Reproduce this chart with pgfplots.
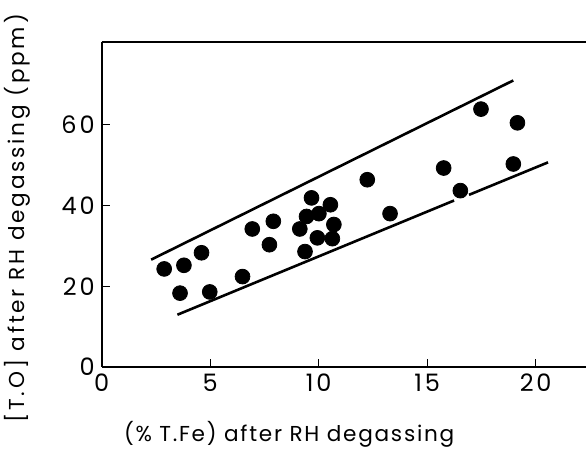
\documentclass[border=0pt]{standalone}
\usepackage{fontspec}
\setmainfont{Poppins}
\newfontfamily\lblfont[LetterSpace=8]{Poppins}
\newfontfamily\ylblfont[LetterSpace=13]{Poppins}
\newfontfamily\tickfont[LetterSpace=12]{Poppins}
\usepackage{pgfplots}
\pgfplotsset{compat=1.18}
\usetikzlibrary{calc}

\begin{document}
\begin{tikzpicture}
\begin{axis}[
  name=ax, scale only axis, width=242.15pt, height=162.65pt,
  xmin=0, xmax=22.32, ymin=0, ymax=80.6,
  axis lines=left, axis line style={-, line width=0.9pt},
  xtick={0,5,10,15,20}, ytick={0,20,40,60},
  tick align=inside, major tick length=4pt, tick style={line width=0.6pt, black},
  tick label style={font=\tickfont\fontsize{12}{12}\selectfont},
  /pgf/number format/assume math mode=true,
  clip=false,
]
% boundary lines
\addplot[black, line width=1.3pt] coordinates {(2.28,26.6) (18.97,71.0)};
\addplot[black, line width=1.3pt] coordinates {(3.49,12.95) (16.24,41.25)};
\addplot[black, line width=1.3pt] coordinates {(16.93,42.66) (20.57,50.7)};
% measurements
\addplot[only marks, mark=*, mark size=3.7pt, black] table[x=fe, y=o] {
fe o
2.88 24.3
3.61 18.3
3.79 25.2
4.60 28.3
4.98 18.6
6.49 22.4
6.94 34.2
7.73 30.3
7.91 36.1
9.13 34.2
9.37 28.6
9.44 37.3
9.67 41.9
10.01 38.0
9.94 32.0
10.54 40.2
10.70 35.3
10.63 31.8
12.24 46.4
13.29 38.0
15.76 49.3
16.53 43.7
17.48 63.9
18.97 50.3
19.16 60.5
};
\draw[line width=0.9pt] (rel axis cs:0,1) -- (rel axis cs:1,1);
\node[anchor=base, font=\lblfont\fontsize{10.8}{12}\selectfont] at ([yshift=-37.3pt]rel axis cs:0.387,0) {(\% T.Fe) after RH degassing};
\node[anchor=base, rotate=90, font=\ylblfont\fontsize{10.8}{12}\selectfont] at ([xshift=-38.35pt]rel axis cs:0,0.457) {[T.O] after RH degassing (ppm)};
\end{axis}
\pgfresetboundingbox
\path[use as bounding box] ($(ax.south west)+(-50.85pt,-41.5pt)$) rectangle ($(ax.north east)+(0,20.85pt)$);
\end{tikzpicture}
\end{document}
